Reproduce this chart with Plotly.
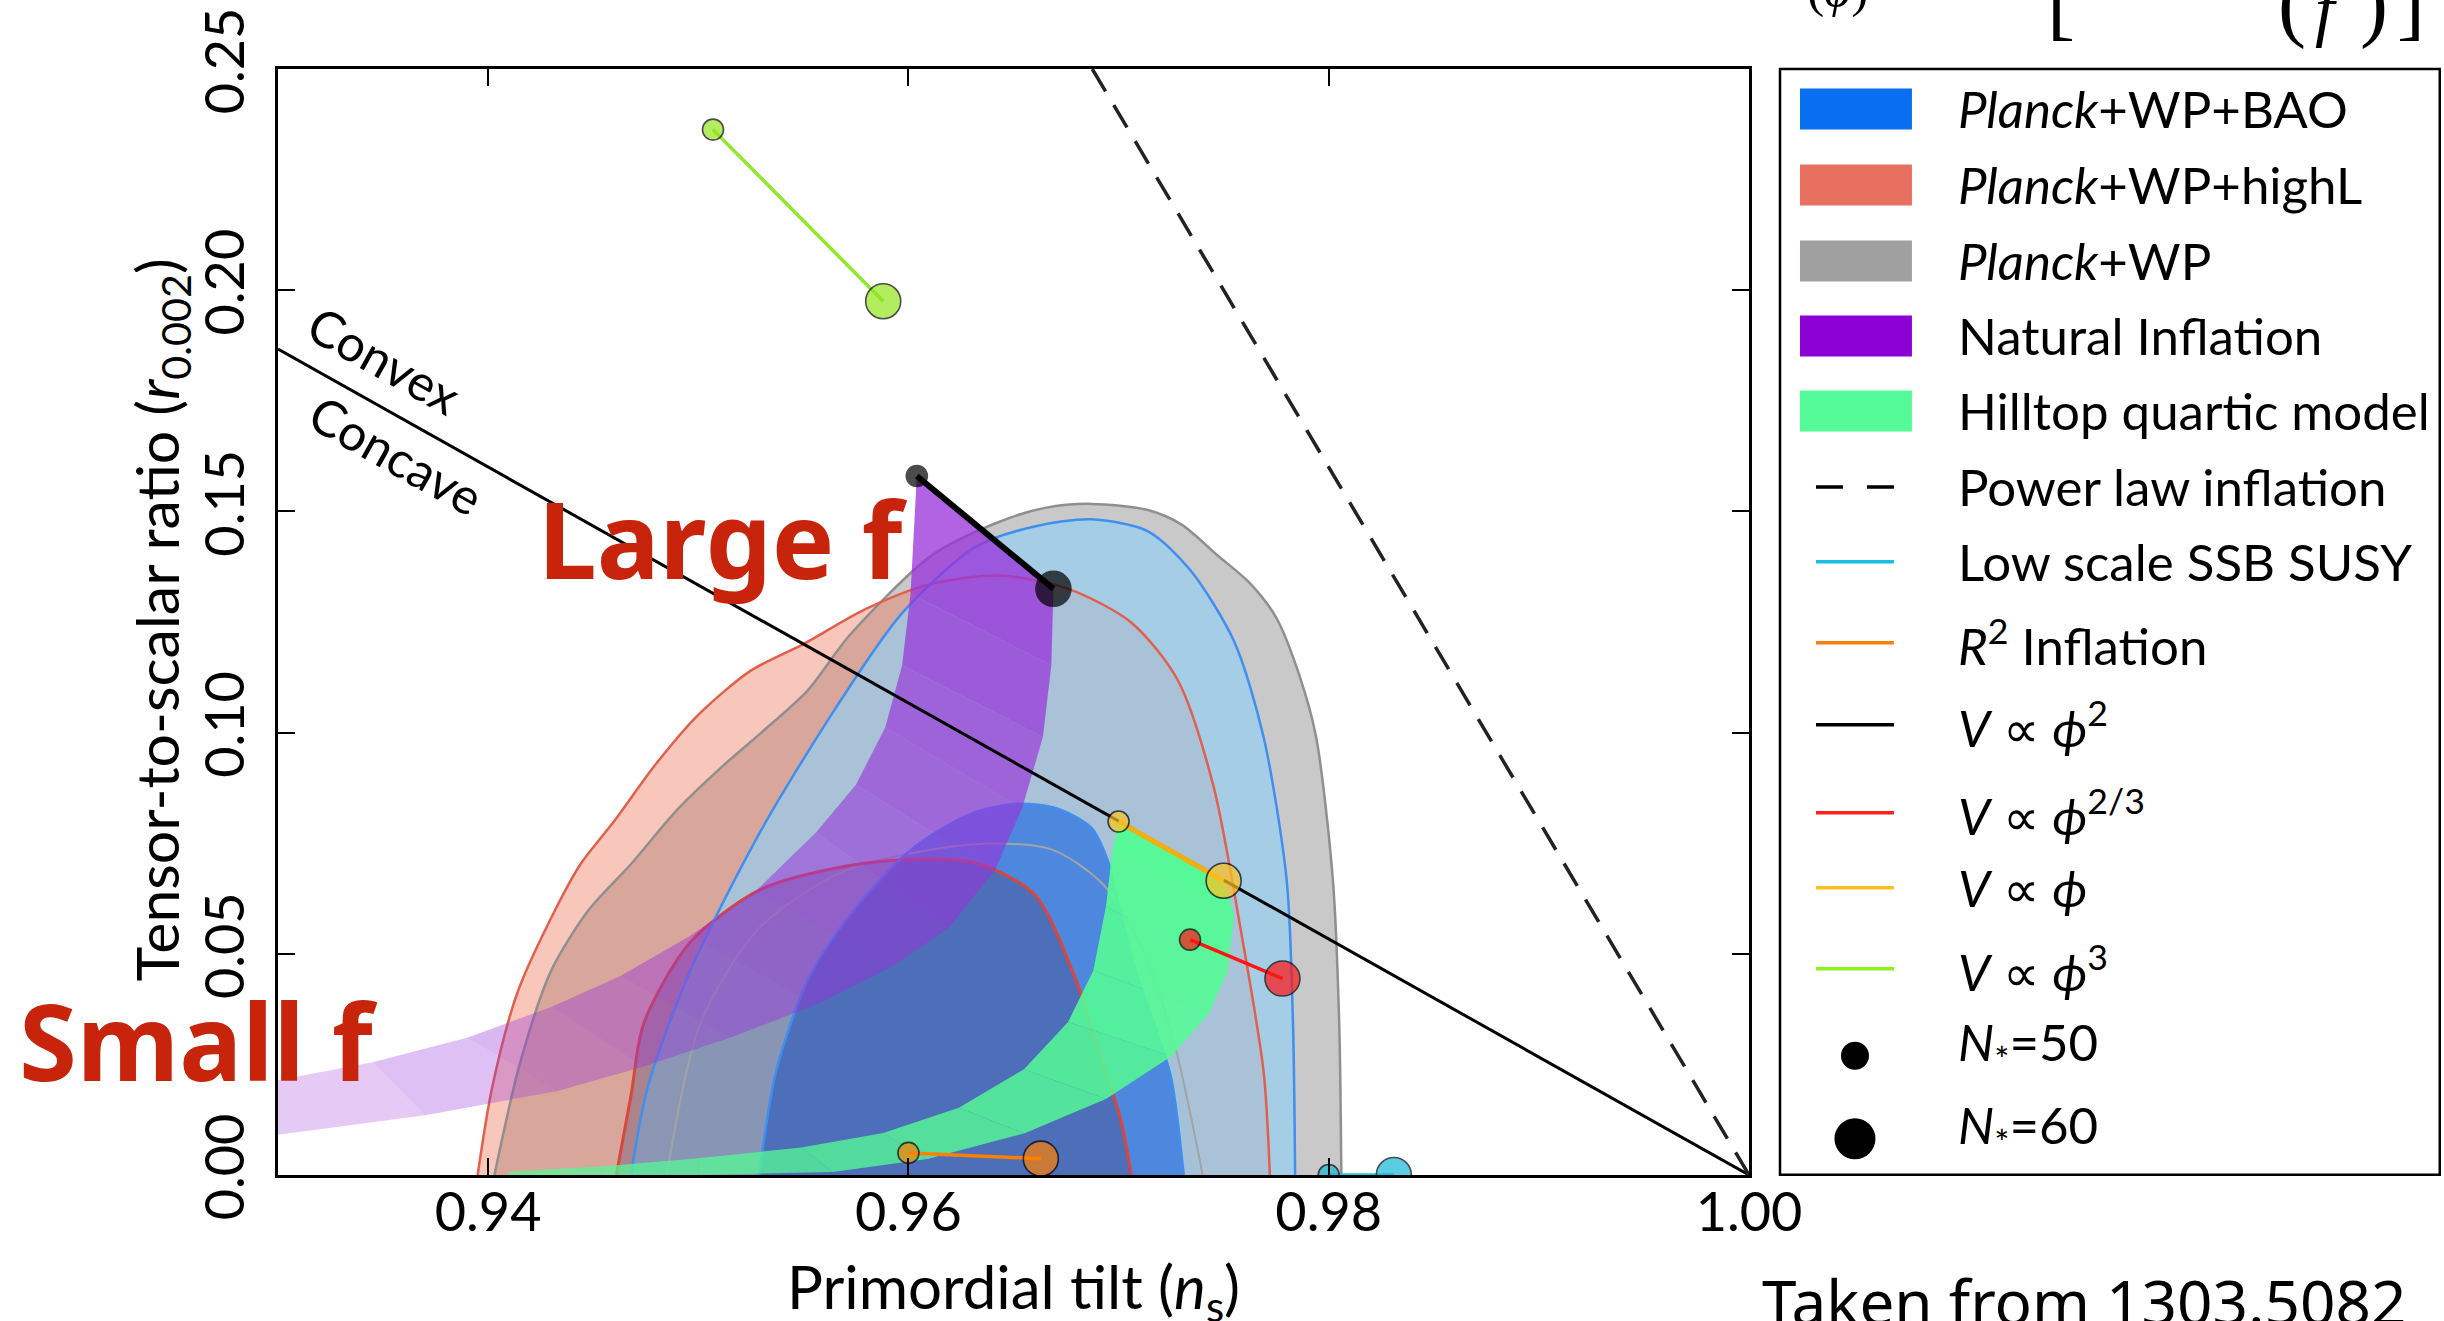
import plotly.graph_objects as go

# ------------------------------------------------------------------ data
x_range = [0.93, 1.00]
y_range = [0.0, 0.25]
x_ticks = [0.94, 0.96, 0.98, 1.00]
y_ticks = [0.00, 0.05, 0.10, 0.15, 0.20, 0.25]

# Planck+WP (grey) 95% / 68%
gray95_ns = [0.9403, 0.9415, 0.9430, 0.9448, 0.9468, 0.9490, 0.9512, 0.9530, 0.9552, 0.9572, 0.9611,
             0.9643, 0.9665, 0.9687, 0.9714, 0.9730, 0.9747, 0.9762, 0.9775, 0.9786, 0.9794, 0.9802,
             0.9805, 0.9806]
gray95_r = [0.0, 0.025, 0.0462, 0.0600, 0.0703, 0.0826, 0.0926, 0.1000, 0.1095, 0.1220, 0.1400,
            0.1476, 0.1508, 0.1517, 0.1503, 0.1470, 0.1401, 0.1340, 0.1260, 0.1130, 0.0990, 0.0666,
            0.0342, 0.0]
gray68_ns = [0.9485, 0.9501, 0.9529, 0.9570, 0.9630, 0.9668, 0.9693, 0.9712, 0.9727, 0.9740]
gray68_r = [0.0, 0.0342, 0.0558, 0.0688, 0.0747, 0.0736, 0.0655, 0.0504, 0.0288, 0.0]

# Planck+WP+highL (red) 95% / 68%
red95_ns = [0.9395, 0.9402, 0.9414, 0.9432, 0.9444, 0.9460, 0.9480, 0.9500, 0.9525, 0.9550, 0.9580,
            0.9610, 0.9643, 0.9676, 0.9706, 0.9728, 0.9745, 0.9758, 0.9769, 0.9772]
red95_r = [0.0, 0.020, 0.0413, 0.0600, 0.0703, 0.0800, 0.0930, 0.1040, 0.1140, 0.1200, 0.1280,
           0.1335, 0.1355, 0.1325, 0.1249, 0.1120, 0.0882, 0.0558, 0.0234, 0.0]
red68_ns = [0.9461, 0.9468, 0.9474, 0.9496, 0.9529, 0.9570, 0.9603, 0.9633, 0.9660, 0.9679, 0.9690,
            0.9701, 0.9706]
red68_r = [0.0, 0.018, 0.0342, 0.0525, 0.0644, 0.0698, 0.0714, 0.0704, 0.0634, 0.0450, 0.0288,
           0.0126, 0.0]

# Planck+WP+BAO (blue) 95% / 68%
blue95_ns = [0.9468, 0.9476, 0.9496, 0.9530, 0.9566, 0.9597, 0.9632, 0.9660, 0.9687, 0.9714, 0.9734,
             0.9755, 0.9769, 0.9780, 0.9783, 0.9784]
blue95_r = [0.0, 0.020, 0.046, 0.078, 0.106, 0.1270, 0.1420, 0.1466, 0.1482, 0.1455, 0.1368,
            0.1206, 0.0990, 0.0666, 0.0342, 0.0]
blue68_ns = [0.9529, 0.9537, 0.9553, 0.9576, 0.9603, 0.9630, 0.9652, 0.9671, 0.9687, 0.9695, 0.9700,
             0.9709, 0.9717, 0.9725, 0.9731]
blue68_r = [0.0, 0.0234, 0.0450, 0.0611, 0.0742, 0.0817, 0.0839, 0.0828, 0.0785, 0.0709, 0.0611,
            0.0450, 0.0342, 0.0220, 0.0]

# Natural inflation band (N*=50 edge and N*=60 edge, large f -> small f)
natural_n50_ns = [0.9604, 0.9601, 0.9597, 0.9589, 0.9575, 0.9556, 0.9527, 0.9496, 0.9463, 0.9430,
                  0.9390, 0.9345, 0.9290]
natural_n50_r = [0.1580, 0.1314, 0.1152, 0.1012, 0.0882, 0.0774, 0.0640, 0.0540, 0.0450, 0.0380,
                 0.0310, 0.0255, 0.0205]
natural_n60_ns = [0.9669, 0.9668, 0.9664, 0.9654, 0.9641, 0.9619, 0.9592, 0.9556, 0.9515, 0.9474,
                  0.9433, 0.9370, 0.9290]
natural_n60_r = [0.1325, 0.1152, 0.0990, 0.0828, 0.0688, 0.0558, 0.0471, 0.0385, 0.0310, 0.0245,
                 0.0190, 0.0135, 0.0085]

# Hilltop quartic band
hilltop_n50_ns = [0.9700, 0.9697, 0.9694, 0.9688, 0.9676, 0.9655, 0.9624, 0.9588, 0.9549, 0.9500,
                  0.9455, 0.9410]
hilltop_n50_r = [0.0800, 0.0732, 0.0607, 0.0462, 0.0346, 0.0239, 0.0152, 0.0095, 0.0062, 0.0038,
                 0.0020, 0.0008]
hilltop_n60_ns = [0.9750, 0.9755, 0.9752, 0.9743, 0.9725, 0.9694, 0.9655, 0.9609, 0.9564, 0.9500,
                  0.9455, 0.9410]
hilltop_n60_r = [0.0665, 0.0587, 0.0462, 0.0365, 0.0268, 0.0172, 0.0094, 0.0036, 0.0007, 0.0,
                 0.0, 0.0]

# Straight lines
powerlaw_ns = [0.96875, 1.00]
powerlaw_r = [0.25, 0.0]
convex_ns = [0.93, 1.00]
convex_r = [0.1867, 0.0]

# Model predictions: [N*=50, N*=60]
phi3_ns, phi3_r = [0.9507, 0.9588], [0.2363, 0.1975]
phi2_ns, phi2_r = [0.9604, 0.9669], [0.1580, 0.1325]
phi1_ns, phi1_r = [0.9700, 0.9750], [0.0799, 0.0665]
phi23_ns, phi23_r = [0.9734, 0.9778], [0.0532, 0.0444]
r2_ns, r2_r = [0.9600, 0.9663], [0.0050, 0.0037]
ssb_ns, ssb_r = [0.9800, 0.9831], [0.0, 0.0]

legend_labels = [
    "<i>Planck</i>+WP+BAO", "<i>Planck</i>+WP+highL", "<i>Planck</i>+WP", "Natural Inflation",
    "Hilltop quartic model", "Power law inflation", "Low scale SSB SUSY", "<i>R</i><sup>2</sup> Inflation",
    "<i>V</i> ∝ <i>ϕ</i><sup>2</sup>", "<i>V</i> ∝ <i>ϕ</i><sup>2/3</sup>", "<i>V</i> ∝ <i>ϕ</i>",
    "<i>V</i> ∝ <i>ϕ</i><sup>3</sup>", "<i>N</i><sub>*</sub>=50", "<i>N</i><sub>*</sub>=60",
]

# ------------------------------------------------------------------ layout geometry
W, H = 2444, 1321
PL, PR, PT, PB = 277.5, 1749.0, 69.0, 1175.3
FONT = "Lato, 'Noto Sans', sans-serif"
RED_TXT = "#c8240b"


def px(x):
    return (x - PL) / (PR - PL)


def py(y):
    return (PB - y) / (PB - PT)


fig = go.Figure()


def fill(xs, ys, color, smooth=False):
    fig.add_trace(go.Scatter(x=xs, y=ys, mode="lines", fill="toself", fillcolor=color,
                             line=dict(width=0, shape="spline" if smooth else "linear", smoothing=0.8),
                             hoverinfo="skip", showlegend=False))


def outline(xs, ys, color, width):
    fig.add_trace(go.Scatter(x=xs, y=ys, mode="lines",
                             line=dict(color=color, width=width, shape="spline", smoothing=0.8),
                             hoverinfo="skip", showlegend=False))


# contour fills
fill(gray95_ns, gray95_r, "rgb(201,201,201)", True)
fill(red95_ns, red95_r, "rgba(238,118,92,0.42)", True)
fill(gray68_ns, gray68_r, "rgba(120,120,120,0.12)", True)
fill(blue95_ns, blue95_r, "rgba(150,206,242,0.70)", True)
fill(blue68_ns, blue68_r, "rgba(40,110,225,0.70)", True)
fill(red68_ns, red68_r, "rgba(80,60,110,0.33)", True)

# contour lines
outline(gray95_ns, gray95_r, "#8f8f8f", 2.5)
outline(gray68_ns, gray68_r, "#a3a3a3", 2)
outline(red95_ns, red95_r, "#e0604c", 2.5)
outline(red68_ns, red68_r, "#d9473c", 3)
outline(blue95_ns, blue95_r, "#3f8ff0", 2.5)
outline(blue68_ns, blue68_r, "#3f8ff0", 2.5)


def band(n50x, n50y, n60x, n60y, rgb, a0, a1):
    n = len(n50x) - 1
    for i in range(n):
        a = a0 + (a1 - a0) * i / max(n - 1, 1)
        xs = [n50x[i], n50x[i + 1], n60x[i + 1], n60x[i]]
        ys = [n50y[i], n50y[i + 1], n60y[i + 1], n60y[i]]
        fill(xs, ys, f"rgba({rgb},{a:.3f})")


band(natural_n50_ns, natural_n50_r, natural_n60_ns, natural_n60_r, "152,50,218", 0.76, 0.26)
band(hilltop_n50_ns, hilltop_n50_r, hilltop_n60_ns, hilltop_n60_r, "85,250,150", 0.97, 0.70)

# straight lines
fig.add_trace(go.Scatter(x=convex_ns, y=convex_r, mode="lines", line=dict(color="black", width=3),
                         hoverinfo="skip", showlegend=False))
fig.add_trace(go.Scatter(x=powerlaw_ns, y=powerlaw_r, mode="lines",
                         line=dict(color="#222222", width=3.5, dash="26px,16px"),
                         hoverinfo="skip", showlegend=False))


def model(xs, ys, color, lw, lcolor=None):
    fig.add_trace(go.Scatter(x=xs, y=ys, mode="lines+markers",
                             line=dict(color=lcolor or color, width=lw),
                             marker=dict(size=[21, 35], color=color, line=dict(color="black", width=1.6)),
                             hoverinfo="skip", showlegend=False))


model(phi3_ns, phi3_r, "#93e41c", 3.5, "#8fe82a")
model(phi2_ns, phi2_r, "black", 6)
model(phi1_ns, phi1_r, "#ffc31f", 5, "#f0b010")
model(phi23_ns, phi23_r, "#ff1414", 3.5)
model(r2_ns, r2_r, "#ff8000", 3.5)
model(ssb_ns, ssb_r, "#17b8d8", 3.5, "#22c4e6")

# ------------------------------------------------------------------ annotations / shapes
ann = []
shapes = []


def note(xp, yp, text, font, xanchor="center", yanchor="middle", angle=0):
    ann.append(dict(x=px(xp), y=py(yp), xref="paper", yref="paper", showarrow=False, text=text,
                    font=font, xanchor=xanchor, yanchor=yanchor, textangle=angle))


# axis titles
note(1013, 1291, "Primordial tilt (<i>n</i><sub>s</sub>)", dict(family=FONT, size=60, color="black"))
note(160, 620, "Tensor-to-scalar ratio (<i>r</i><sub>0.002</sub>)", dict(family=FONT, size=59, color="black"),
     angle=-90)

# convex / concave
note(384, 360, "Convex", dict(family=FONT, size=50, color="black"), angle=29.3)
note(396, 455, "Concave", dict(family=FONT, size=50, color="black"), angle=29.3)

# red labels
RED_FONT = dict(family="'Noto Sans', sans-serif", size=105, color=RED_TXT, weight="bold")
note(536, 539, "Large f", RED_FONT, xanchor="left")
note(16, 1041, "Small f", RED_FONT, xanchor="left")

# credit
note(1760, 1301, "Taken from 1303.5082", dict(family="'Noto Sans', sans-serif", size=62, color="black"),
     xanchor="left")

# cropped formula fragments at top of page
SERIF = "'Liberation Serif', 'DejaVu Serif', serif"
for xc, yb, t, size in [(1838, 20, "(<i>ϕ</i>)", 52), (2061, 50, "[", 84), (2292, 52, "(", 84),
                        (2329, 50, "<i>f</i>", 70), (2374, 52, ")", 84), (2411, 50, "]", 84)]:
    note(xc, yb, t, dict(family=SERIF, size=size, color="black"), yanchor="bottom")

# legend box
shapes.append(dict(type="rect", xref="paper", yref="paper", x0=px(1780), x1=px(2440), y0=py(1175),
                   y1=py(69), line=dict(color="black", width=2.5), fillcolor="white", layer="below"))
row_y = [109, 185, 261, 336, 411, 487, 562, 643, 725, 813, 888, 969, 1046, 1129]
patch_colors = ["#0a6ef0", "#e8705f", "#a0a0a0", "#8c00d4", "#55fb98"]
for i, c in enumerate(patch_colors):
    shapes.append(dict(type="rect", xref="paper", yref="paper", x0=px(1800), x1=px(1912),
                       y0=py(row_y[i] + 20.5), y1=py(row_y[i] - 20.5), line=dict(width=0), fillcolor=c))
line_styles = [("black", "27px,24px"), ("#19bde0", "solid"), ("#ff7f0e", "solid"), ("black", "solid"),
               ("#ff2020", "solid"), ("#ffc020", "solid"), ("#8ff020", "solid")]
for j, (c, d) in enumerate(line_styles):
    yy = row_y[5 + j]
    shapes.append(dict(type="line", xref="paper", yref="paper", x0=px(1816), x1=px(1894), y0=py(yy),
                       y1=py(yy), line=dict(color=c, width=3.5, dash=d)))
for yy, dia in [(1056, 28), (1139, 41)]:
    rr = dia / 2
    shapes.append(dict(type="circle", xref="paper", yref="paper", x0=px(1855 - rr), x1=px(1855 + rr),
                       y0=py(yy + rr), y1=py(yy - rr), line=dict(width=0), fillcolor="black"))
for lab, yy in zip(legend_labels, row_y):
    note(1956, yy, lab, dict(family=FONT, size=51, color="black"), xanchor="left")

axis_common = dict(ticks="inside", ticklen=17, tickwidth=2, tickcolor="black", showline=True,
                   linewidth=2.5, linecolor="black", mirror="allticks", showgrid=False, zeroline=False,
                   automargin=False, tickfont=dict(family=FONT, size=54, color="black"))

fig.update_layout(
    width=W, height=H, autosize=False,
    margin=dict(l=PL, r=W - PR, t=PT, b=H - PB, pad=0),
    paper_bgcolor="white", plot_bgcolor="white", template="none", showlegend=False,
    xaxis=dict(range=x_range, tickvals=x_ticks, ticktext=[f"{v:.2f}" for v in x_ticks],
               ticklabelstandoff=-12, **axis_common),
    yaxis=dict(range=y_range, tickvals=y_ticks, ticktext=[f"{v:.2f}" for v in y_ticks],
               tickangle=-90, ticklabelstandoff=10, **axis_common),
    annotations=ann, shapes=shapes,
)

fig.write_html("out.html", config={"displayModeBar": False})
